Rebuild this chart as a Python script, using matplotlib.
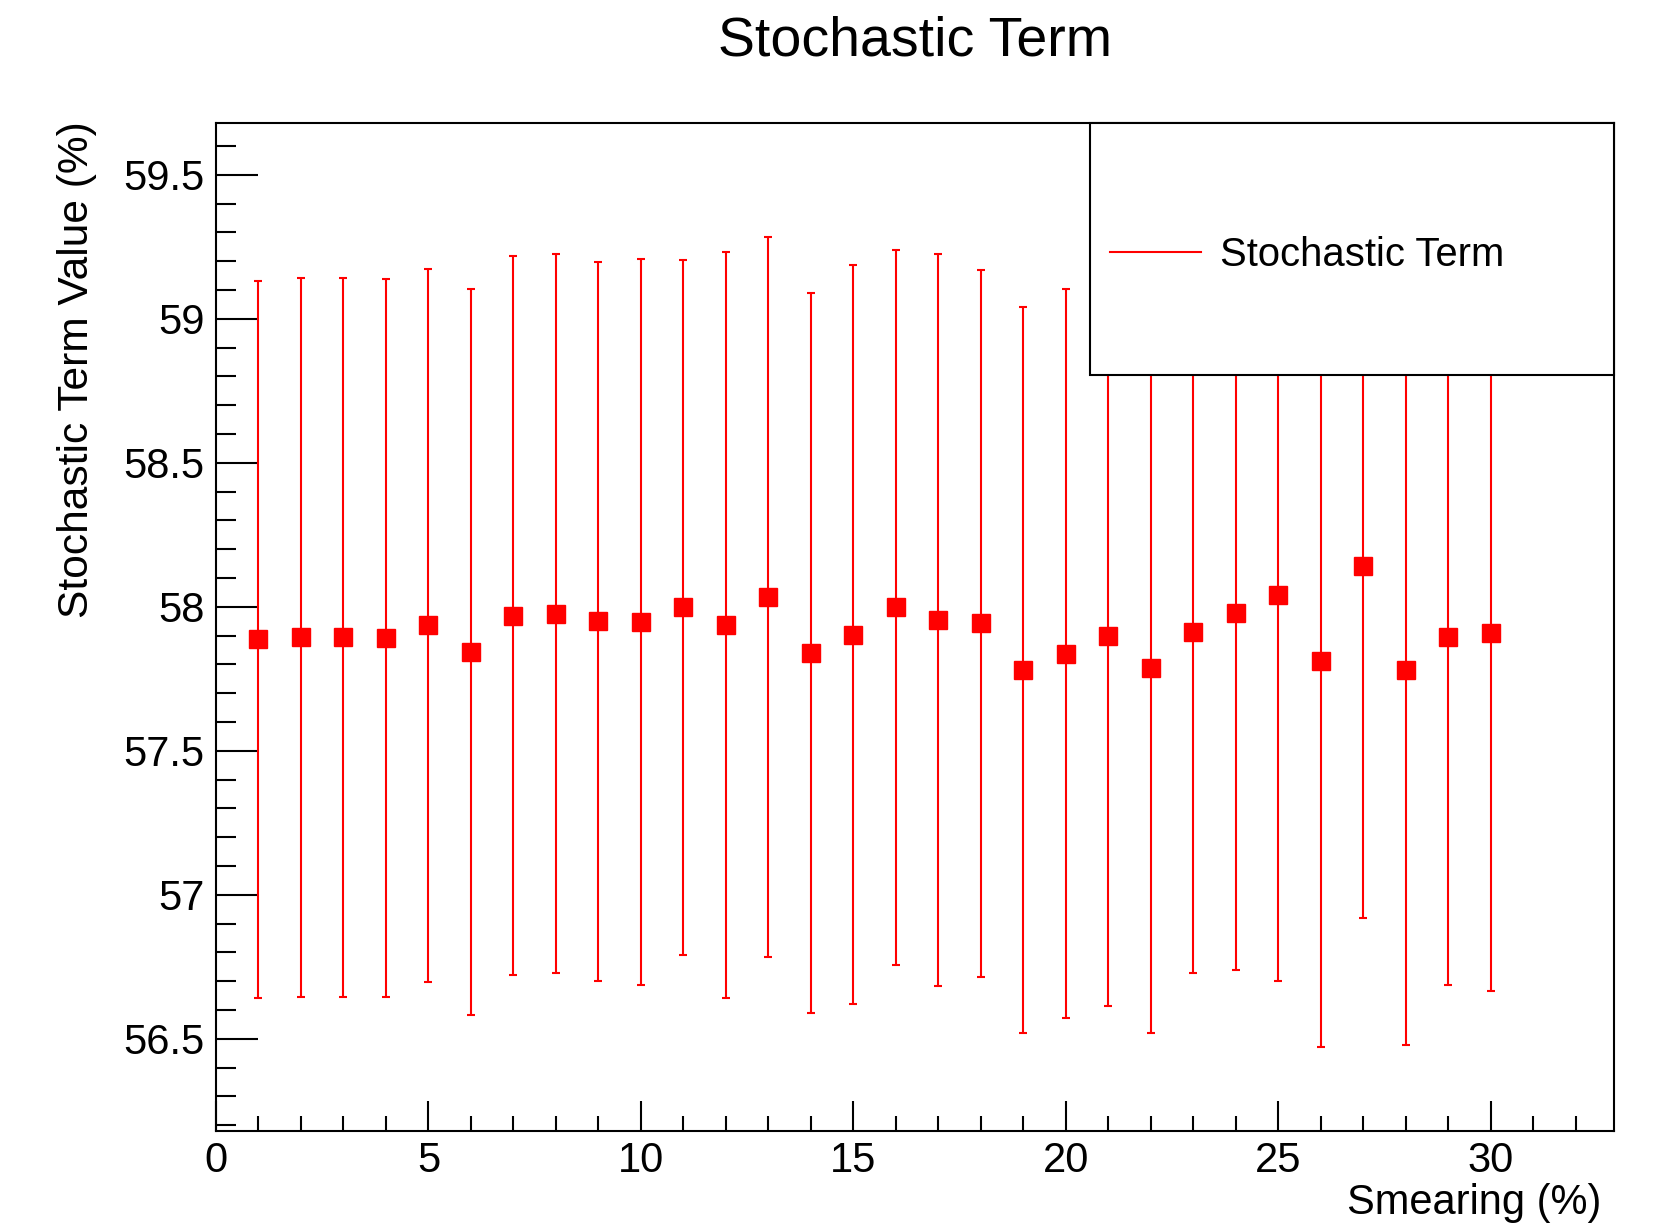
import matplotlib
matplotlib.use("Agg")
import matplotlib.pyplot as plt
from matplotlib.lines import Line2D
from matplotlib.patches import Rectangle
from matplotlib.ticker import MultipleLocator

plt.rcParams['font.family'] = ['Liberation Sans', 'DejaVu Sans']

# smearing (%) and fitted stochastic term (%) with its uncertainty
smearing = list(range(1, 31))
stoch_value = [57.888, 57.895, 57.895, 57.892, 57.936, 57.844, 57.969, 57.976, 57.950, 57.947,
               57.998, 57.936, 58.035, 57.840, 57.903, 57.998, 57.954, 57.943, 57.781, 57.837,
               57.899, 57.789, 57.914, 57.980, 58.042, 57.811, 58.141, 57.781, 57.895, 57.910]
stoch_error = [1.245, 1.248, 1.248, 1.245, 1.238, 1.260, 1.249, 1.248, 1.248, 1.260,
               1.208, 1.295, 1.250, 1.250, 1.283, 1.240, 1.270, 1.228, 1.260, 1.265,
               1.285, 1.267, 1.186, 1.241, 1.340, 1.340, 1.222, 1.303, 1.208, 1.245]

W, H = 1659, 1226
fig = plt.figure(figsize=(W / 100, H / 100), dpi=100)
ax = fig.add_axes([216 / W, (H - 1131) / H, 1398 / W, 1008 / H])

ax.errorbar(smearing, stoch_value, yerr=stoch_error, fmt='s', color='red',
            ecolor='red', markersize=13, elinewidth=1.5, capsize=3.2, capthick=1.5,
            zorder=2)

ax.set_xlim(0, 32.9)
ax.set_ylim(56.18, 59.68)
ax.xaxis.set_major_locator(MultipleLocator(5))
ax.xaxis.set_minor_locator(MultipleLocator(1))
ax.yaxis.set_major_locator(MultipleLocator(0.5))
ax.yaxis.set_minor_locator(MultipleLocator(0.1))
ax.yaxis.set_major_formatter(plt.FuncFormatter(lambda v, p: f"{v:g}"))

ax.tick_params(axis='both', which='both', direction='in', width=1.5, labelsize=30,
               top=False, right=False)
ax.tick_params(axis='x', which='major', length=21.6, pad=7)
ax.tick_params(axis='x', which='minor', length=10.8)
ax.tick_params(axis='y', which='major', length=30, pad=8)
ax.tick_params(axis='y', which='minor', length=14.4)
for s in ax.spines.values():
    s.set_linewidth(1.5)

# legend box (opaque, covers the error bars beneath)
ax.add_patch(Rectangle((0.625, 0.75), 0.375, 0.25, transform=ax.transAxes,
                       facecolor='white', edgecolor='black', linewidth=1.5,
                       zorder=4.5, clip_on=False))
handle = Line2D([], [], color='red', lw=1.5)
leg = ax.legend([handle], ["Stochastic Term"], loc='center left',
                bbox_to_anchor=(0.6395, 0.869), frameon=False, fontsize=28.8,
                handlelength=2.28, handletextpad=0.47, borderpad=0,
                borderaxespad=0)
leg.set_zorder(5)

fig.text(915 / W, 1 - 42 / H, "Stochastic Term", ha='center', va='center', fontsize=40)
fig.text(1601 / W, 1 - 1203 / H, "Smearing (%)", ha='right', va='center', fontsize=30)
fig.text(77 / W, 1 - 121 / H, "Stochastic Term Value (%)", rotation=90,
         ha='center', va='top', fontsize=30.6)

fig.savefig("out.png", dpi=100)
